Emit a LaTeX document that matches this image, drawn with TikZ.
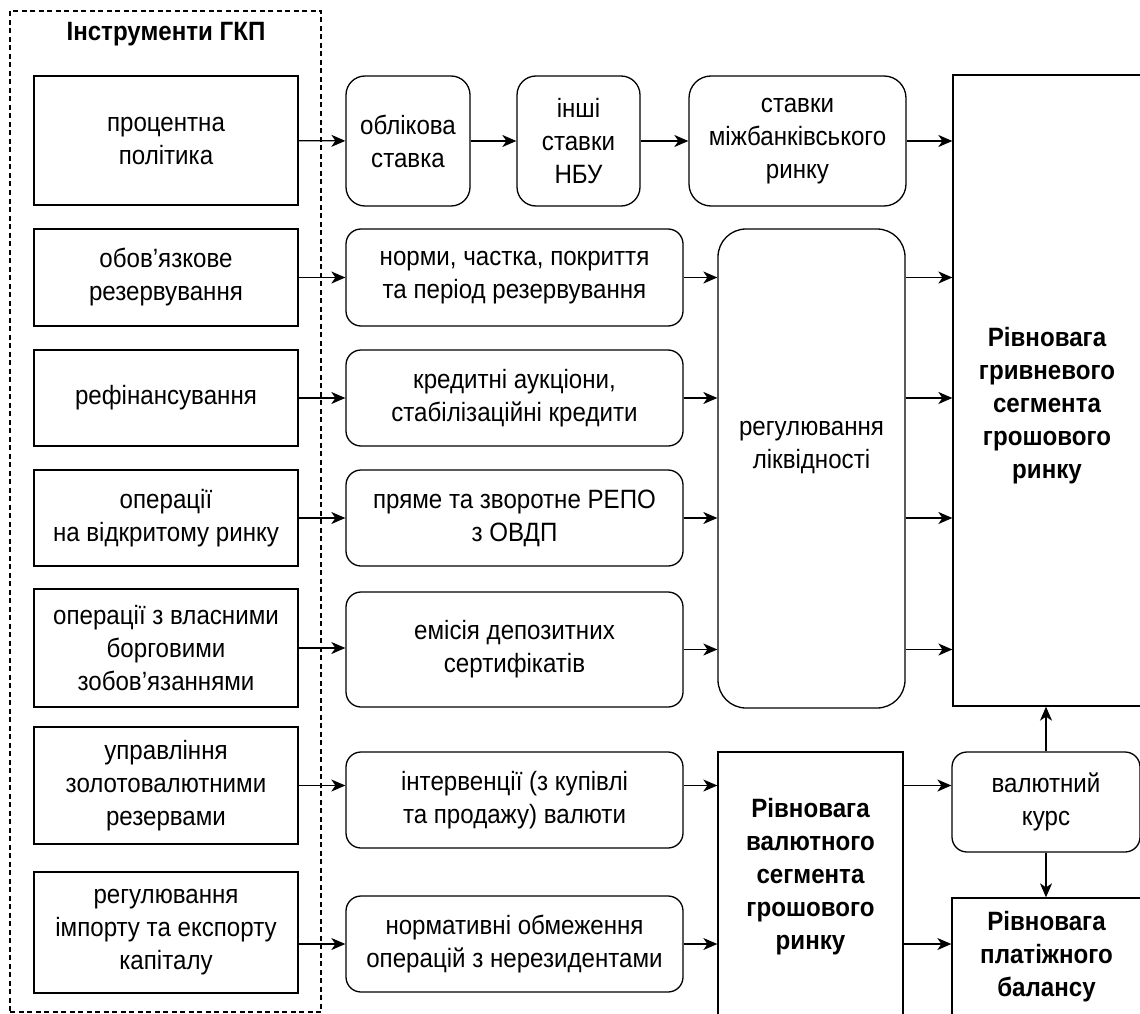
\documentclass[tikz,border=0pt]{standalone}
\usepackage{fontspec}
\setmainfont{Liberation Sans}[FakeStretch=0.91]
\usepackage{tikz}
\usetikzlibrary{arrows.meta, positioning, calc}

\newcommand{\diagfont}{\fontsize{26.5pt}{33pt}\selectfont}

\begin{document}
\begin{tikzpicture}[
  x=1pt, y=-1pt,
  tool/.style={draw, line width=1.3pt, minimum width=264pt, align=center,
               inner sep=2pt, font=\diagfont},
  chan/.style={draw, line width=1.3pt, rounded corners=15pt, align=center,
               inner sep=2pt, font=\diagfont},
  goal/.style={draw, line width=1.3pt, align=center, inner sep=2pt},
  heading/.style={font=\diagfont\bfseries, align=center, inner sep=0pt},
  frame/.style={draw, line width=1.1pt, dash pattern=on 5pt off 3.5pt},
  arrow/.style={-{Stealth[length=14pt, width=12pt, inset=4pt]}, line width=1.3pt}
]
  \useasboundingbox (0,0) rectangle (1140,1014);
  \clip (0,0) rectangle (1140,1014);

  % instruments
  \node[frame, minimum width=311pt, minimum height=1001pt] (tools) at (165.5,511.5) {};
  \node[heading] (title) at (166,34) {Інструменти ГКП};

  \node[tool, minimum height=129pt] (t1) at (166,140.5) {процентна\\політика};
  \node[tool, minimum height=97pt]  (t2) at (166,277.5) {обов’язкове\\резервування};
  \node[tool, minimum height=96pt]  (t3) at (166,398)   {рефінансування};
  \node[tool, minimum height=96pt]  (t4) at (166,518)   {операції\\на відкритому ринку};
  \node[tool, minimum height=118pt] (t5) at (166,648)   {операції з власними\\борговими\\зобов’язаннями};
  \node[tool, minimum height=117pt] (t6) at (166,785.5) {управління\\золотовалютними\\резервами};
  \node[tool, minimum height=121pt] (t7) at (166,932.5) {регулювання\\імпорту та експорту\\капіталу};

  % channels
  \node[chan, rounded corners=19pt, minimum width=124pt, minimum height=130pt] (r1) at (408,141)   {облікова\\ставка};
  \node[chan, rounded corners=19pt, minimum width=123pt, minimum height=130pt] (r2) at (578.5,141) {інші\\ставки\\НБУ};
  \node[chan, rounded corners=22pt, minimum width=217pt, minimum height=130pt] (r3) at (797.5,141) {ставки\\міжбанківського\\ринку};

  \node[chan, minimum width=337pt, minimum height=97pt]  (m1) at (514.5,277.5) {норми, частка, покриття\\та період резервування};
  \node[chan, minimum width=337pt, minimum height=96pt]  (m2) at (514.5,398)   {кредитні аукціони,\\стабілізаційні кредити};
  \node[chan, minimum width=337pt, minimum height=96pt]  (m3) at (514.5,518)   {пряме та зворотне РЕПО\\з ОВДП};
  \node[chan, minimum width=337pt, minimum height=115pt] (m4) at (514.5,649.5) {емісія депозитних\\сертифікатів};
  \node[chan, minimum width=337pt, minimum height=96pt]  (m5) at (514.5,800)   {інтервенції (з купівлі\\та продажу) валюти};
  \node[chan, minimum width=337pt, minimum height=96pt]  (m6) at (514.5,944)   {нормативні обмеження\\операцій з нерезидентами};

  \node[chan, rounded corners=28pt, minimum width=187pt, minimum height=479pt] (liq) at (811.5,468.5) {};
  \node[heading, font=\diagfont] (liqtext) at (811.5,448) {регулювання\\ліквідності};

  % equilibria
  \node[goal, minimum width=188pt, minimum height=631pt] (hrn) at (1047,390.5) {};
  \node[heading] (hrntext) at (1047,406) {Рівновага\\гривневого\\сегмента\\грошового\\ринку};

  \node[goal, minimum width=185pt, minimum height=264pt] (fx) at (810.5,884) {};
  \node[heading] (fxtext) at (810.5,877) {Рівновага\\валютного\\сегмента\\грошового\\ринку};

  \node[chan, minimum width=188pt, minimum height=100pt] (rate) at (1046,802) {валютний\\курс};

  \node[goal, minimum width=189pt, minimum height=118pt, font=\diagfont\bfseries] (bop) at (1046.5,957) {Рівновага\\платіжного\\балансу};

  % connectors
  \draw[arrow] (t1) -- (r1);
  \draw[arrow] (r1) -- (r2);
  \draw[arrow] (r2) -- (r3);
  \draw[arrow] (r3.east) -- (r3.east -| hrn.west);

  \draw[arrow] (t2) -- (m1);
  \draw[arrow] (t3) -- (m2);
  \draw[arrow] (t4) -- (m3);
  \draw[arrow] (t5.east) -- (t5.east -| m4.west);

  \foreach \m in {m1, m2, m3, m4} {
    \draw[arrow] (\m.east) -- (\m.east -| liq.west);
    \draw[arrow] (\m.east -| liq.east) -- (\m.east -| hrn.west);
  }

  \draw[arrow] (t6.east) -- (t6.east -| m5.west);
  \draw[arrow] (t6.east -| m5.east) -- (t6.east -| fx.west);
  \draw[arrow] (t6.east -| fx.east) -- (t6.east -| rate.west);

  \draw[arrow] (m6.west -| t7.east) -- (m6.west);
  \draw[arrow] (m6.east) -- (m6.east -| fx.west);
  \draw[arrow] (m6.east -| fx.east) -- (m6.east -| bop.west);

  \draw[arrow] (rate.north) -- (rate.north |- hrn.south);
  \draw[arrow] (rate.south) -- (rate.south |- bop.north);
\end{tikzpicture}
\end{document}
